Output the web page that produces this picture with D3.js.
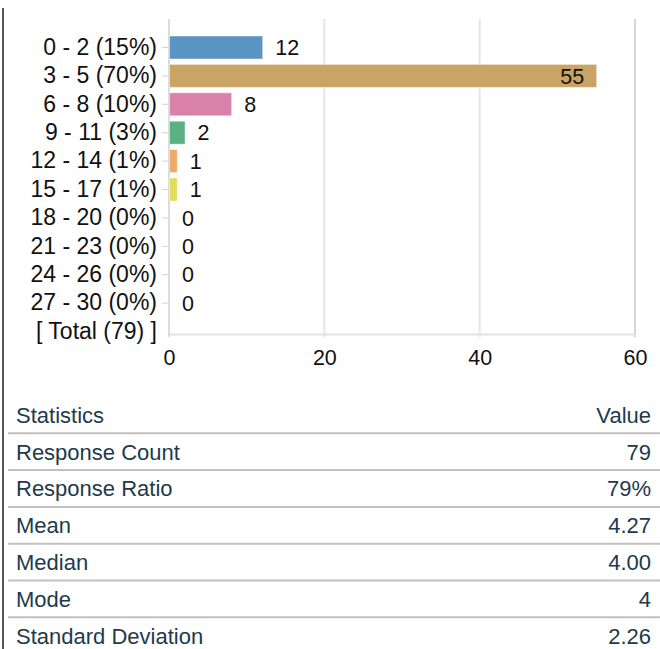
<!DOCTYPE html>
<html>
<head>
<meta charset="utf-8">
<script src="https://cdn.jsdelivr.net/npm/d3@7"></script>
<style>
  html, body { margin: 0; padding: 0; background: #fff; }
  svg { display: block; font-family: Arial, "Liberation Sans", sans-serif; }
</style>
</head>
<body>
<div id="chart"></div>
<script>
// data
var categories = ["0 - 2 (15%)", "3 - 5 (70%)", "6 - 8 (10%)", "9 - 11 (3%)", "12 - 14 (1%)",
                  "15 - 17 (1%)", "18 - 20 (0%)", "21 - 23 (0%)", "24 - 26 (0%)", "27 - 30 (0%)",
                  "[ Total (79) ]"];
var counts = [12, 55, 8, 2, 1, 1, 0, 0, 0, 0];
var barColors = ["#5b94c2", "#c9a464", "#d981ab", "#5cb184", "#eeaa6b", "#e0dd5b"];
var xTicks = [0, 20, 40, 60];

var statNames = ["Response Count", "Response Ratio", "Mean", "Median", "Mode", "Standard Deviation"];
var statValues = ["79", "79%", "4.27", "4.00", "4", "2.26"];

var W = 660, H = 649;
var plotTop = 19, plotBottom = 334;

var svg = d3.select("#chart").append("svg")
  .attr("width", W)
  .attr("height", H);

// left border of the panel
svg.append("line")
  .attr("x1", 3).attr("x2", 3)
  .attr("y1", 8).attr("y2", H)
  .attr("stroke", "#5d5353")
  .attr("stroke-width", 2);

var x = d3.scaleLinear().domain([0, 60]).range([169, 635]);
var y = d3.scaleBand().domain(categories)
  .range([33.3, 345.7])
  .paddingInner(0.19)
  .paddingOuter(0.095);

// vertical grid
svg.append("g").selectAll("line")
  .data(xTicks.slice(1))
  .join("line")
  .attr("x1", d => x(d)).attr("x2", d => x(d))
  .attr("y1", plotTop).attr("y2", plotBottom + 3)
  .attr("stroke", (d, i) => i == xTicks.length - 2 ? "#d6d6d6" : "#e6e6e6")
  .attr("stroke-width", 2);

// x axis
var xAxis = svg.append("g")
  .attr("transform", "translate(0," + plotBottom + ")")
  .call(d3.axisBottom(x).tickValues(xTicks).tickSize(0).tickPadding(16));
xAxis.select(".domain").attr("stroke", "#e2e2e2").attr("stroke-width", 2);
xAxis.selectAll("text").attr("font-size", 21.5).attr("fill", "#111")
  .attr("font-family", "Arial, 'Liberation Sans', sans-serif");

// y axis
var yAxis = svg.append("g")
  .attr("transform", "translate(" + x(0) + ",0)")
  .call(d3.axisLeft(y).tickSize(7).tickPadding(5));
yAxis.select(".domain").remove();
yAxis.selectAll(".tick line").attr("stroke", "#d4d4d4");
yAxis.selectAll(".tick:last-child line").remove();
yAxis.selectAll("text").attr("font-size", 23).attr("fill", "#111")
  .attr("font-family", "Arial, 'Liberation Sans', sans-serif");

svg.append("line")
  .attr("x1", x(0)).attr("x2", x(0))
  .attr("y1", plotTop).attr("y2", plotBottom + 3)
  .attr("stroke", "#dcdcdc")
  .attr("stroke-width", 2);

var bars = categories.slice(0, counts.length).map((c, i) => ({ cat: c, v: counts[i], i: i }));

svg.append("g").selectAll("rect")
  .data(bars.filter(d => d.v > 0))
  .join("rect")
  .attr("x", x(0) + 0.5)
  .attr("y", d => y(d.cat))
  .attr("width", d => x(d.v) - x(0))
  .attr("height", y.bandwidth())
  .attr("fill", d => barColors[d.i])
  .attr("stroke", "rgba(255,255,255,0.45)")
  .attr("stroke-width", 1);

svg.append("g").selectAll("text")
  .data(bars)
  .join("text")
  .attr("x", d => d.v > 40 ? x(d.v) - 12 : x(d.v) + 13)
  .attr("y", d => y(d.cat) + y.bandwidth() / 2)
  .attr("dy", "0.36em")
  .attr("text-anchor", d => d.v > 40 ? "end" : "start")
  .attr("font-size", 21.5)
  .attr("fill", "#111")
  .text(d => d.v);

// statistics table
var rowTop = 396.5, rowStep = 36.8;
var table = svg.append("g").attr("fill", "#1e3a4c").attr("font-size", 22);

table.append("text").attr("x", 16).attr("y", rowTop + rowStep / 2).attr("dy", "0.36em").text("Statistics");
table.append("text").attr("x", 651).attr("y", rowTop + rowStep / 2).attr("dy", "0.36em")
  .attr("text-anchor", "end").text("Value");

table.selectAll("line.sep")
  .data(statNames)
  .join("line")
  .attr("class", "sep")
  .attr("x1", 8).attr("x2", W)
  .attr("y1", (d, i) => rowTop + rowStep * (i + 1))
  .attr("y2", (d, i) => rowTop + rowStep * (i + 1))
  .attr("stroke", "#c4c0c0")
  .attr("stroke-width", 2);

table.selectAll("text.name")
  .data(statNames)
  .join("text")
  .attr("class", "name")
  .attr("x", 16)
  .attr("y", (d, i) => rowTop + rowStep * (i + 1.5))
  .attr("dy", "0.36em")
  .text(d => d);

table.selectAll("text.val")
  .data(statValues)
  .join("text")
  .attr("class", "val")
  .attr("x", 651)
  .attr("y", (d, i) => rowTop + rowStep * (i + 1.5))
  .attr("dy", "0.36em")
  .attr("text-anchor", "end")
  .text(d => d);
</script>
</body>
</html>
